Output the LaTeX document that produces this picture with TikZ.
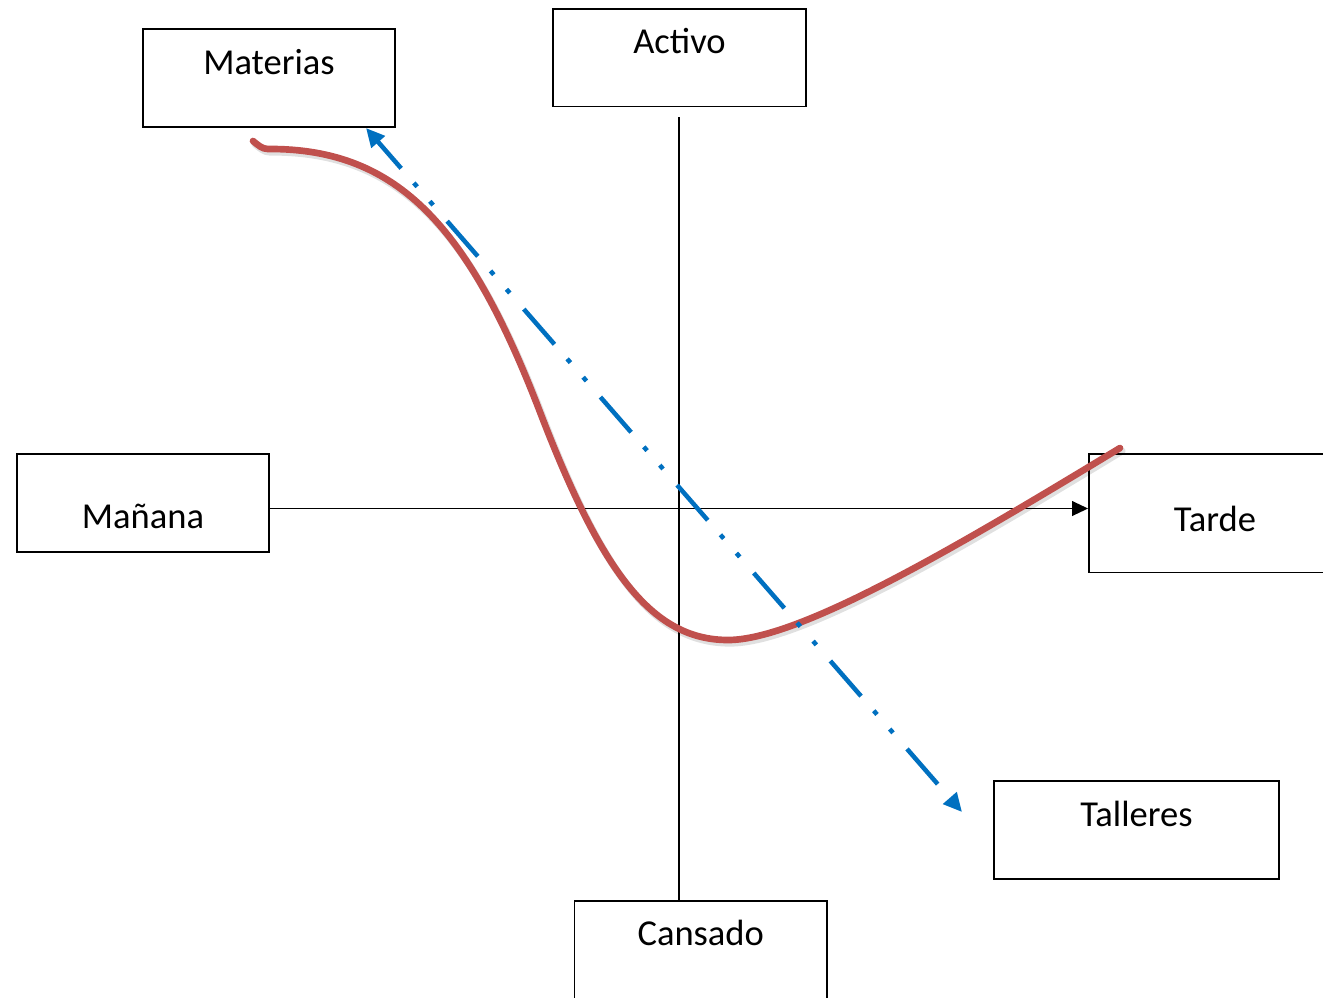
\documentclass[tikz,border=0pt]{standalone}
\usepackage{fontspec}
\setmainfont{Carlito}
\usetikzlibrary{arrows.meta}
\definecolor{redc}{HTML}{C0504D}
\definecolor{bluec}{HTML}{0070C0}
\tikzset{
  bx/.style 2 args={draw=black, line width=1.4pt, fill=white, inner sep=0pt,
    minimum width=#1*0.75pt, minimum height=#2*0.75pt},
  lbl/.style={anchor=base, inner sep=0pt, font=\fontsize{27.4}{33}\selectfont},
  axis/.style={draw=black, line width=1.4pt},
  curve/.style={draw=redc, line width=5pt, line cap=round, line join=round},
  curveshadow/.style={draw=black, opacity=0.12, line width=5.4pt, line cap=round, line join=round},
  dashdot/.style={draw=bluec, line width=3.4pt, line cap=butt,
    dash pattern=on 35pt off 14.5pt on 3.75pt off 14.5pt on 3.75pt off 16pt,
    dash phase=8pt,
    {Triangle[length=14pt,width=13pt]}-{Triangle[length=14pt,width=13pt]}}
}
\begin{document}
\begin{tikzpicture}[x=0.75pt,y=-0.75pt]
\useasboundingbox (0,0) rectangle (1323,997);
% boxes
\node[bx={252}{98}] (mat) at (269,78) {};
\node[bx={253}{97.5}] (act) at (679.5,57.75) {};
\node[bx={252}{98}] (man) at (143,503) {};
\node[bx={252}{118.5}] (tar) at (1215,513.25) {};
\node[bx={285}{98}] (tal) at (1136.5,830) {};
\node[bx={252.5}{98}] (can) at (700.75,950) {};
% labels
\node[lbl] (matT) at (269,74) {Materias};
\node[lbl] (actT) at (679.5,53) {Activo};
\node[lbl] (manT) at (143,528) {Mañana};
\node[lbl] (tarT) at (1215,531) {Tarde};
\node[lbl] (talT) at (1136.5,826) {Talleres};
\node[lbl] (canT) at (700.75,945) {Cansado};
% axes
\coordinate (vtop) at (679,117);
\coordinate (hy) at (0,508.5);
\draw[axis] (vtop) -- (vtop |- can.north);
\draw[axis, -{Triangle[length=12pt,width=11pt]}] (man.east |- hy) -- (tar.west |- hy);
% red curve
\def\curvepath{(253,141) .. controls (258,145) and (262,149) .. (268,149)
  .. controls (400,148) and (470,230) .. (540,412)
  .. controls (600,568) and (650,640) .. (728,640)
  .. controls (800,640) and (960,545) .. (1120,448)}
\begin{scope}[shift={(2,3)}]
\draw[curveshadow] \curvepath;
\end{scope}
\draw[curve] \curvepath;
% blue dash-dot-dot connector
\coordinate (bA) at (366,128);
\coordinate (bB) at (962,812);
\draw[dashdot] (bA) -- (bB);
\end{tikzpicture}
\end{document}
